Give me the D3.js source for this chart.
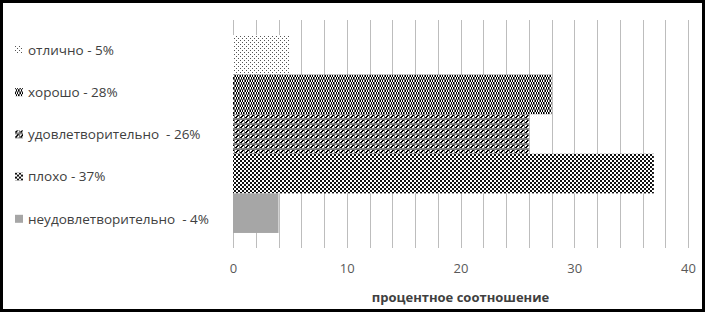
<!DOCTYPE html>
<html><head><meta charset="utf-8">
<script src="https://cdn.jsdelivr.net/npm/d3@7"></script>
<style>body{margin:0;background:#fff}svg{display:block}text{font-family:"Open Sans","Liberation Sans",sans-serif;white-space:pre}</style>
</head><body>
<svg id="c" width="707" height="313"></svg>
<script>
const categories = ["отлично", "хорошо", "удовлетворительно", "плохо", "неудовлетворительно"];
const values = [5, 28, 26, 37, 4];
const legendLabels = ["отлично - 5%", "хорошо - 28%", "удовлетворительно  - 26%", "плохо - 37%", "неудовлетворительно  - 4%"];
const tickValues = [0, 10, 20, 30, 40];
const gridValues = d3.range(0, 41, 2);
const axisTitle = "процентное соотношение";

const svg = d3.select("#c");
const defs = svg.append("defs");

function pat(id, size, bg, rects){
  const p = defs.append("pattern").attr("id", id).attr("patternUnits","userSpaceOnUse")
    .attr("width", size).attr("height", size);
  p.append("rect").attr("width", size).attr("height", size).attr("fill", bg);
  rects.forEach(r => p.append("rect").attr("x", r[0]).attr("y", r[1]).attr("width", r[2]).attr("height", r[3]).attr("fill", r[4]));
}
// sparse dots
pat("p0", 4, "#fff", [[0,0,1,1,"#555"],[2,2,1,1,"#555"]]);
// dark grid with checker blocks
pat("p1", 5, "#6e6e6e", [[0,0,1,1,"#000"],[2,0,1,1,"#000"],[1,1,1,1,"#fff"],[3,1,1,1,"#fff"],[0,2,1,1,"#fff"],[2,2,1,1,"#fff"],[1,3,1,1,"#000"],[3,3,1,1,"#000"],[1,0,1,1,"#fff"],[0,1,1,1,"#000"],[2,1,1,1,"#000"],[3,0,1,1,"#fff"],[1,2,1,1,"#000"],[3,2,1,1,"#000"],[0,3,1,1,"#fff"],[2,3,1,1,"#fff"]]);
// dotted with gray rows
pat("p2", 5, "#7a7a7a", [[0,0,1,1,"#fff"],[2,0,1,1,"#000"],[1,1,1,1,"#000"],[3,1,1,1,"#fff"],[0,2,1,1,"#000"],[2,2,1,1,"#fff"],[1,0,1,1,"#fff"],[3,0,1,1,"#000"],[0,1,1,1,"#fff"],[2,1,1,1,"#000"],[1,2,1,1,"#000"],[3,2,1,1,"#fff"],[0,3,1,1,"#999"],[2,3,1,1,"#999"]]);
// checkerboard
pat("p3", 4, "#fff", [[0,0,2,2,"#111"],[2,2,2,2,"#111"]]);
const fills = ["url(#p0)", "url(#p1)", "url(#p2)", "url(#p3)", "#a6a6a6"];

// frame
svg.append("rect").attr("x",1.5).attr("y",1.5).attr("width",702).attr("height",309)
  .attr("fill","#fff").attr("stroke","#000").attr("stroke-width",3);

const x = d3.scaleLinear().domain([0, 40]).range([233, 688]);
const y = d3.scaleBand().domain(categories).range([20, 248]).paddingInner(0).paddingOuter(0.38);

// gridlines
svg.append("g").selectAll("line").data(gridValues).join("line")
  .attr("x1", d => Math.round(x(d)) + 0.5).attr("x2", d => Math.round(x(d)) + 0.5)
  .attr("y1", 20).attr("y2", 248).attr("stroke", "#bdbdbd").attr("stroke-width", 1);

// bars
svg.append("g").selectAll("rect").data(categories).join("rect")
  .attr("x", x(0)).attr("y", d => y(d))
  .attr("width", (d, i) => x(values[i]) - x(0)).attr("height", y.bandwidth())
  .attr("fill", (d, i) => fills[i]);

// axis tick labels
const axis = d3.axisBottom(x).tickValues(tickValues).tickSize(0).tickPadding(0).tickFormat(d3.format("d"));
const ga = svg.append("g").attr("transform", "translate(0,263)").call(axis);
ga.select(".domain").remove();
ga.selectAll("text").attr("fill", "#595959").attr("font-size", 13).attr("dy", "0.75em")
  .attr("font-family", "'Open Sans','Liberation Sans',sans-serif");

// axis title
svg.append("text").attr("x", (x(0) + x(40)) / 2).attr("y", 302).attr("text-anchor", "middle")
  .attr("font-size", 13).attr("font-weight", "bold").attr("fill", "#404040").text(axisTitle);

// legend
const lg = svg.append("g").selectAll("g").data(legendLabels).join("g")
  .attr("transform", (d, i) => `translate(15,${50 + i * 42.2})`);
lg.append("rect").attr("x", 0).attr("y", -4).attr("width", 8).attr("height", 8)
  .attr("fill", (d, i) => fills[i]);
lg.append("text").attr("x", 13).attr("y", 0).attr("dy", "0.35em")
  .attr("font-size", 13.5).attr("fill", "#404040").text(d => d);
</script>
</body></html>
